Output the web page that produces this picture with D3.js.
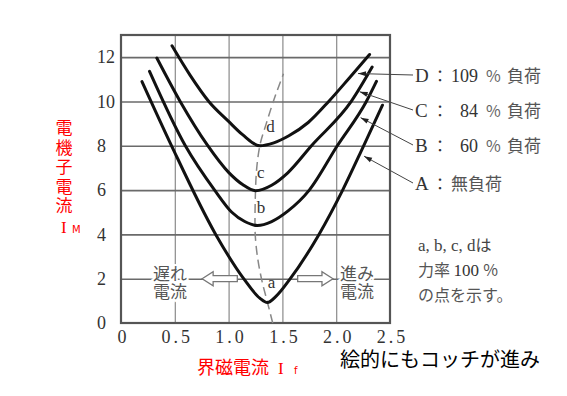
<!DOCTYPE html>
<html>
<head>
<meta charset="utf-8">
<script src="https://cdn.jsdelivr.net/npm/d3@7"></script>
<style>
  body { margin: 0; background: #fff; }
  svg { display: block; }
</style>
</head>
<body>
<svg width="567" height="396"></svg>
<script>
// field current If (x) vs armature current IM (y)
var curveA = [[0.195, 10.9], [0.47, 8], [0.88, 4], [1.14, 2], [1.29, 1.12], [1.36, 0.92], [1.44, 1.2], [1.573, 2], [1.84, 4], [2.06, 6], [2.255, 8], [2.43, 9.83]];
var curveB = [[0.265, 11.36], [0.598, 8], [0.87, 6], [1.03, 5.0], [1.15, 4.58], [1.268, 4.4], [1.40, 4.58], [1.55, 5.05], [1.75, 6], [2.01, 8], [2.28, 10], [2.374, 10.91]];
var curveC = [[0.333, 11.96], [0.55, 10], [0.8, 8.05], [1.0, 6.8], [1.13, 6.25], [1.25, 5.97], [1.40, 6.22], [1.55, 6.78], [1.77, 8], [2.14, 10], [2.334, 11.55]];
var curveD = [[0.474, 12.51], [0.64, 11.2], [0.816, 10], [1.0, 9.1], [1.13, 8.5], [1.29, 8.0], [1.42, 8.13], [1.56, 8.45], [1.74, 9.05], [1.93, 10], [2.12, 11.05], [2.31, 12.12]];
var pfLine = [[1.41, 0], [1.36, 0.95], [1.31, 1.9], [1.265, 3.1], [1.245, 4.4], [1.25, 6], [1.29, 8], [1.35, 9], [1.43, 10.2], [1.51, 11.25]];

var xTicks = [0, 0.5, 1.0, 1.5, 2.0, 2.5];
var yTicks = [0, 2, 4, 6, 8, 10, 12];
var xTickText = ["0", "0.5", "1.0", "1.5", "2.0", "2.5"];

var pointNames = ["a", "b", "c", "d"];
var pointPos = [[1.40, 1.6], [1.30, 4.95], [1.30, 6.55], [1.39, 8.6]];

var loadLetters = ["D", "C", "B", "A"];
var loadValues = ["109", "84", "60", ""];
var leaderFrom = [[2.203, 11.26], [2.218, 10.44], [2.227, 9.27], [2.259, 7.53]];

var svg = d3.select("svg");
var pl = 121, pr = 390, pt = 35, pb = 323;

var x = d3.scaleLinear().domain([0, 2.5]).range([pl, pr]);
var y = d3.scaleLinear().domain([0, 13]).range([pb, pt]);

var serif = "'Liberation Serif', 'DejaVu Serif', serif";
var cjk = "'Noto Sans CJK JP', sans-serif";

// grid
svg.append("g")
    .attr("transform", "translate(0," + pb + ")")
    .call(d3.axisBottom(x).tickValues([0.5, 1.0, 1.5, 2.0]).tickSize(-(pb - pt)).tickFormat(""))
    .call(function(g) { g.select(".domain").remove(); })
    .selectAll("line").attr("stroke", "#8a8a8a").attr("stroke-width", 1.2);

svg.append("g")
    .attr("transform", "translate(" + pl + ",0)")
    .call(d3.axisLeft(y).tickValues([2, 4, 6, 8, 10, 12]).tickSize(-(pr - pl)).tickFormat(""))
    .call(function(g) { g.select(".domain").remove(); })
    .selectAll("line").attr("stroke", "#6a6a6a").attr("stroke-width", 1.6);

svg.append("rect")
    .attr("x", pl).attr("y", pt)
    .attr("width", pr - pl).attr("height", pb - pt)
    .attr("fill", "none").attr("stroke", "#555").attr("stroke-width", 2.2);

// tick labels
var yAxis = svg.append("g")
    .attr("transform", "translate(" + pl + ",0)")
    .call(d3.axisLeft(y).tickValues(yTicks).tickSize(0).tickFormat(d3.format("d")));
yAxis.select(".domain").remove();
yAxis.selectAll("text")
    .attr("x", -24).attr("text-anchor", "start")
    .attr("font-family", serif).attr("font-size", 18).attr("fill", "#333");

var xAxis = svg.append("g")
    .attr("transform", "translate(0," + pb + ")")
    .call(d3.axisBottom(x).tickValues(xTicks).tickSize(0).tickPadding(7)
        .tickFormat(function(d, i) { return xTickText[i]; }));
xAxis.select(".domain").remove();
xAxis.selectAll("text")
    .attr("font-family", serif).attr("font-size", 18).attr("fill", "#333")
    .attr("letter-spacing", 3).attr("dx", 2);

// power-factor 100% line
var pfPath = d3.line()
    .x(function(d) { return x(d[0]); })
    .y(function(d) { return y(d[1]); })
    .curve(d3.curveMonotoneY);

svg.append("path")
    .attr("d", pfPath(pfLine))
    .attr("fill", "none").attr("stroke", "#888").attr("stroke-width", 1.5)
    .attr("stroke-dasharray", "9,5");

// V curves
var line = d3.line()
    .x(function(d) { return x(d[0]); })
    .y(function(d) { return y(d[1]); })
    .curve(d3.curveMonotoneX);

svg.selectAll(".vcurve")
    .data([curveA, curveB, curveC, curveD]).enter()
    .append("path")
    .attr("class", "vcurve")
    .attr("d", line)
    .attr("fill", "none").attr("stroke", "#111").attr("stroke-width", 3)
    .attr("stroke-linecap", "round");

// a b c d
svg.selectAll(".pt")
    .data(pointNames).enter()
    .append("text")
    .attr("class", "pt")
    .attr("x", function(d, i) { return x(pointPos[i][0]); })
    .attr("y", function(d, i) { return y(pointPos[i][1]); })
    .attr("text-anchor", "middle")
    .attr("font-family", serif).attr("font-size", 17).attr("fill", "#333")
    .text(function(d) { return d; });

// lagging / leading current
function hollowArrow(x0, x1, yy, dir) {
    var tip = dir < 0 ? x0 : x1, tail = dir < 0 ? x1 : x0;
    var hl = 11 * dir;
    var p = d3.path();
    p.moveTo(tip, yy);
    p.lineTo(tip - hl, yy - 7);
    p.lineTo(tip - hl, yy - 3);
    p.lineTo(tail, yy - 3);
    p.lineTo(tail, yy + 3);
    p.lineTo(tip - hl, yy + 3);
    p.lineTo(tip - hl, yy + 7);
    p.closePath();
    svg.append("path").attr("d", p.toString())
        .attr("fill", "#fff").attr("stroke", "#777").attr("stroke-width", 1.3);
}
hollowArrow(x(0.754), x(1.081), y(2), -1);
hollowArrow(x(1.642), x(1.97), y(2), 1);

function twoLine(px, l1, l2) {
    [l1, l2].forEach(function(s, k) {
        svg.append("text")
            .attr("x", px).attr("y", 280 + k * 18)
            .attr("font-family", cjk).attr("font-size", 17).attr("fill", "#555")
            .attr("stroke", "#fff").attr("stroke-width", 4).attr("paint-order", "stroke")
            .text(s);
    });
}
twoLine(153, "遅れ", "電流");
twoLine(340, "進み", "電流");

// load labels
var rowY = [82, 117, 152, 190];
loadLetters.forEach(function(L, i) {
    var yy = rowY[i];
    var from = leaderFrom[i];
    var x0 = x(from[0]), y0 = y(from[1]);
    svg.append("line")
        .attr("x1", x0).attr("y1", y0).attr("x2", 413).attr("y2", yy - 7)
        .attr("stroke", "#444").attr("stroke-width", 1);
    var ang = Math.atan2(yy - 7 - y0, 413 - x0);
    svg.append("path")
        .attr("d", "M0,0L8,-2.5L8,2.5Z")
        .attr("transform", "translate(" + x0 + "," + y0 + ") rotate(" + (ang * 180 / Math.PI) + ")")
        .attr("fill", "#222");
    svg.append("text").attr("x", 415).attr("y", yy)
        .attr("font-family", serif).attr("font-size", 19).attr("fill", "#333").text(L);
    svg.append("text").attr("x", 432).attr("y", yy)
        .attr("font-family", cjk).attr("font-size", 16).attr("fill", "#333").text("：");
    if (loadValues[i]) {
        svg.append("text").attr("x", 478).attr("y", yy).attr("text-anchor", "end")
            .attr("font-family", serif).attr("font-size", 18).attr("fill", "#333").text(loadValues[i]);
        svg.append("text").attr("x", 486).attr("y", yy)
            .attr("font-family", cjk).attr("font-size", 16).attr("fill", "#666").text("%");
        svg.append("text").attr("x", 507).attr("y", yy)
            .attr("font-family", cjk).attr("font-size", 17).attr("fill", "#555").text("負荷");
    } else {
        svg.append("text").attr("x", 451).attr("y", yy)
            .attr("font-family", cjk).attr("font-size", 17).attr("fill", "#555").text("無負荷");
    }
});

// note
var note = svg.append("text").attr("font-size", 16).attr("fill", "#444");
note.append("tspan").attr("x", 418).attr("y", 251).attr("font-family", serif).attr("font-size", 17).text("a, b, c, d");
note.append("tspan").attr("font-family", cjk).text("は");
var note2 = svg.append("text").attr("font-size", 16).attr("fill", "#555").attr("font-family", cjk);
note2.append("tspan").attr("x", 418).attr("y", 276).text("力率 ");
note2.append("tspan").attr("font-family", serif).attr("font-size", 17).attr("fill", "#333").text("100 ");
note2.append("tspan").text("%");
svg.append("text").attr("x", 418).attr("y", 301)
    .attr("font-family", cjk).attr("font-size", 16).attr("fill", "#555").text("の点を示す。");

// red axis titles
"電機子電流".split("").forEach(function(ch, i) {
    svg.append("text").attr("x", 64).attr("y", 134 + i * 19.5)
        .attr("text-anchor", "middle")
        .attr("font-family", cjk).attr("font-size", 17).attr("fill", "#f00").text(ch);
});
svg.append("text").attr("x", 61).attr("y", 233)
    .attr("font-family", serif).attr("font-size", 17).attr("fill", "#f00").text("I");
svg.append("text").attr("x", 72).attr("y", 233)
    .attr("font-family", "'DejaVu Sans', sans-serif").attr("font-size", 10).attr("fill", "#f00").text("M");

var xt = svg.append("text").attr("x", 197).attr("y", 374)
    .attr("font-family", cjk).attr("font-size", 18).attr("fill", "#f00");
xt.append("tspan").text("界磁電流");
xt.append("tspan").attr("x", 278).attr("font-family", serif).attr("font-size", 17).text("I");
xt.append("tspan").attr("x", 294).attr("font-family", "'DejaVu Sans', sans-serif").attr("font-size", 10).text("f");

svg.append("text").attr("x", 340).attr("y", 367)
    .attr("font-family", cjk).attr("font-size", 20).attr("fill", "#000")
    .text("絵的にもコッチが進み");
</script>
</body>
</html>
